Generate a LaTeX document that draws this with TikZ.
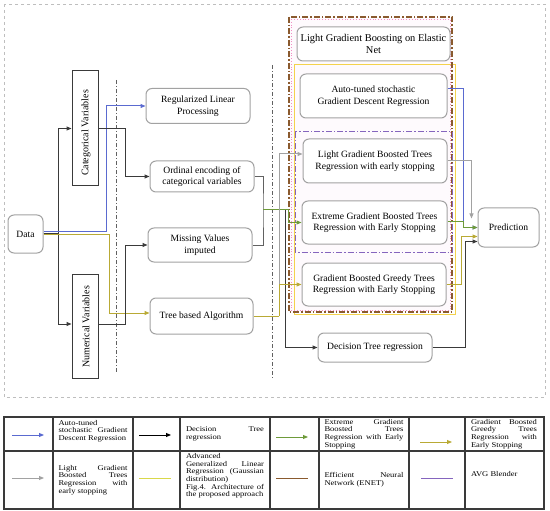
\documentclass[tikz,border=0pt]{standalone}
\usepackage{fontspec}
\setmainfont{Liberation Serif}
\newfontfamily\legendfont[FakeStretch=1.17]{Liberation Serif}
\usepackage{graphicx}
\usepackage{tikz}
\usetikzlibrary{arrows.meta,calc}
\definecolor{acBlue}{HTML}{5A6AD0}
\definecolor{acGreen}{HTML}{6E9B3A}
\definecolor{acOlive}{HTML}{B9AA35}
\definecolor{acGray}{HTML}{A2A2A2}
\definecolor{acDark}{HTML}{3A3A3A}
\definecolor{acYellow}{HTML}{F4D24C}
\definecolor{acLime}{HTML}{D9D84A}
\definecolor{acBrown}{HTML}{8A5A2E}
\definecolor{acPurple}{HTML}{8565BE}
\definecolor{acPink}{HTML}{F28FC4}

\begin{document}
\begin{tikzpicture}[
    x=1pt, y=-1pt,
    font=\fontsize{9.6}{11.5}\selectfont,
    >={Triangle[length=5pt,width=4pt]},
    box/.style={rounded corners=6pt, draw=acGray, line width=1pt, fill=white,
                inner sep=2pt, align=center},
    varbox/.style={draw=acDark, line width=1pt, fill=white, inner sep=0pt},
    arr/.style={->, line width=1pt, draw=#1},
    ln/.style={line width=1pt, draw=#1},
    guide/.style={draw=acDark!80, line width=0.8pt, dash pattern=on 4pt off 2pt on 1pt off 2pt},
    lgtxt/.style={font=\legendfont\fontsize{7.3}{7.6}\selectfont, text width=#1,
                  align=justify, inner sep=0pt},
  ]
  \useasboundingbox (0,0) rectangle (550,511);
  % frame
  \draw[acGray!70, dashed, line width=0.6pt] (4,4) rectangle (545,397);
  % ensemble containers
  \fill[acPink!4] (289,17) rectangle (452,312);
  \draw[acYellow, line width=1pt] (294,65) rectangle (455,314);
  \draw[acPink, line width=0.8pt, dotted] (291,19) rectangle (450,310);
  \draw[acBrown, line width=1.2pt, dash pattern=on 6pt off 2pt on 1.5pt off 2pt] (289,17) rectangle (452,312);
  \draw[acPurple, line width=1pt, dash pattern=on 6pt off 2pt on 1.5pt off 2pt] (295,132) rectangle (452,252);
  % stage guides
  \draw[guide] (116,80) -- (116,372);
  \draw[guide] (272,65) -- (272,378);
  % nodes
  \node[box, minimum width=35pt, minimum height=38pt]  (data) at (25.5,234)  {Data};
  \node[varbox, minimum width=26pt, minimum height=115pt] (cat) at (85,128.5) {};
  \node[font=\fontsize{10}{12}\selectfont] at (86,133) {\rotatebox{90}{Categorical Variables}};
  \node[varbox, minimum width=26pt, minimum height=104pt] (num) at (85,326) {};
  \node[font=\fontsize{10}{12}\selectfont] at (86,327) {\rotatebox{90}{Numerical Variables}};
  % preprocessing
  \node[box, minimum width=104pt, minimum height=35pt] (reg)  at (198,106)   {Regularized Linear\\Processing};
  \node[box, minimum width=104pt, minimum height=31pt] (ord)  at (202,176.5) {Ordinal encoding of\\categorical variables};
  \node[box, minimum width=104pt, minimum height=34pt] (miss) at (200,245)   {Missing Values\\imputed};
  \node[box, minimum width=103pt, minimum height=36pt] (tree) at (201.5,316) {Tree based Algorithm};
  % models
  \node[box, minimum width=153pt, minimum height=34pt, font=\fontsize{10.4}{12}\selectfont]
                                                       (lgben) at (373.5,44)  {Light Gradient Boosting on Elastic\\Net};
  \node[box, minimum width=147pt, minimum height=44pt] (sgd)   at (373.5,96)  {Auto-tuned stochastic\\Gradient Descent Regression};
  \node[box, minimum width=144pt, minimum height=44pt] (lgbt)  at (375,161)   {Light Gradient Boosted Trees\\Regression with early stopping};
  \node[box, minimum width=145pt, minimum height=43pt] (xgbt)  at (374.5,222.5) {Extreme Gradient Boosted Trees\\Regression with Early Stopping};
  \node[box, minimum width=144pt, minimum height=43pt] (gbgt)  at (374,284.5) {Gradient Boosted Greedy Trees\\Regression with Early Stopping};
  \node[box, minimum width=114pt, minimum height=29pt] (dtr)   at (375,347.5) {Decision Tree regression};
  % output
  \node[box, minimum width=61pt, minimum height=39pt]  (pred)  at (508.5,227.5) {Prediction};
  % split points
  \coordinate (mrg) at (263,210);
  \coordinate (tsp) at (279,316);
  % arrows from data
  \draw[arr=acDark] (data.east) -- ++(15,0) |- (cat.west);
  \draw[arr=acDark] (data.east) -- ++(15,0) |- ([yshift=2pt]num.west);
  \draw[arr=acBlue] ([yshift=2pt]data.east) -- ++(63,0) |- (reg.west);
  \draw[arr=acOlive] ([yshift=-1pt]data.east) -- ++(66,0) |- ([yshift=3pt]tree.west);
  \draw[arr=acDark] (cat.east) -- ++(27,0) |- (ord.west);
  \draw[arr=acDark] ([yshift=2pt]num.east) -- ++(27,0) |- (miss.west);
  % merge of encoded and imputed data
  \draw[ln=acDark!80] (ord.east) -| (mrg) |- (miss.east);
  \draw[arr=acDark] (mrg) -- ++(22,0) |- (dtr.west);
  \draw[arr=acGreen] (mrg) -- ++(25,0) |- (xgbt.west);
  % tree based branch
  \draw[ln=acOlive] (tree.east) -- (tsp);
  \draw[arr=acGray] (tsp) |- ([yshift=7pt]lgbt.west);
  \draw[arr=acOlive] (tsp) |- (gbgt.west);
  % models to prediction
  \draw[arr=acBlue] ([yshift=7pt]sgd.east) -| ($(pred.west)+(-14,0)$) -- (pred.west);
  \draw[arr=acGray] (lgbt.east) -| ($(pred.west)+(-6,-9)$);
  \draw[arr=acGreen] ([yshift=1pt]xgbt.east) -- ++(16,0) |- (pred.west);
  \draw[arr=acOlive] (gbgt.east) -- ++(15,0) |- ([yshift=-9pt]pred.west);
  \draw[arr=acDark] (dtr.east) -- ++(33,0) |- ([yshift=-14pt]pred.west);
  % legend table
  \draw[acDark, line width=1.1pt] (4,417) rectangle (544,509);
  \draw[acDark, line width=1.1pt] (4,451) -- (544,451);
  \foreach \cx in {53,133,180,270,319,409,465}
    \draw[acDark, line width=1.1pt] (\cx,417) -- (\cx,509);
  % legend keys
  \foreach \n/\kx/\ky/\kc/\ks in {1/28/435/acBlue/arr, 2/155/435/black/arr, 3/292/437/acGreen/arr,
                                  4/436/442/acOlive/arr, 5/28/478/acGray/arr, 6/155/478/acLime/ln,
                                  7/292/478/acBrown/ln, 8/437/478/acPurple/ln} {
    \coordinate (key\n a) at (\kx-16,\ky);
    \coordinate (key\n b) at (\kx+16,\ky);
    \draw[\ks=\kc, line width=0.9pt] (key\n a) -- (key\n b);
  }
  % legend texts
  \node[lgtxt=69pt] (lt1) at (93,431)  {Auto-tuned\\stochastic Gradient\linebreak Descent Regression};
  \node[lgtxt=78pt] (lt2) at (225,434) {Decision Tree\linebreak regression};
  \node[lgtxt=79pt] (lt3) at (364,434) {Extreme Gradient\linebreak Boosted Trees\linebreak Regression with Early\linebreak Stopping};
  \node[lgtxt=66pt] (lt4) at (504,434) {Gradient Boosted\linebreak Greedy Trees\linebreak Regression with\linebreak Early Stopping};
  \node[lgtxt=69pt] (lt5) at (93,480)  {Light Gradient\linebreak Boosted Trees\linebreak Regression with\linebreak early stopping};
  \node[lgtxt=78pt] (lt6) at (225,476) {Advanced\\Generalized Linear\linebreak Regression (Gaussian\linebreak distribution)\\Fig.4. Architecture of\linebreak the proposed approach};
  \node[lgtxt=79pt] (lt7) at (364,480) {Efficient Neural\linebreak Network (ENET)};
  \node[lgtxt=66pt] (lt8) at (504,474) {AVG Blender};
\end{tikzpicture}
\end{document}
